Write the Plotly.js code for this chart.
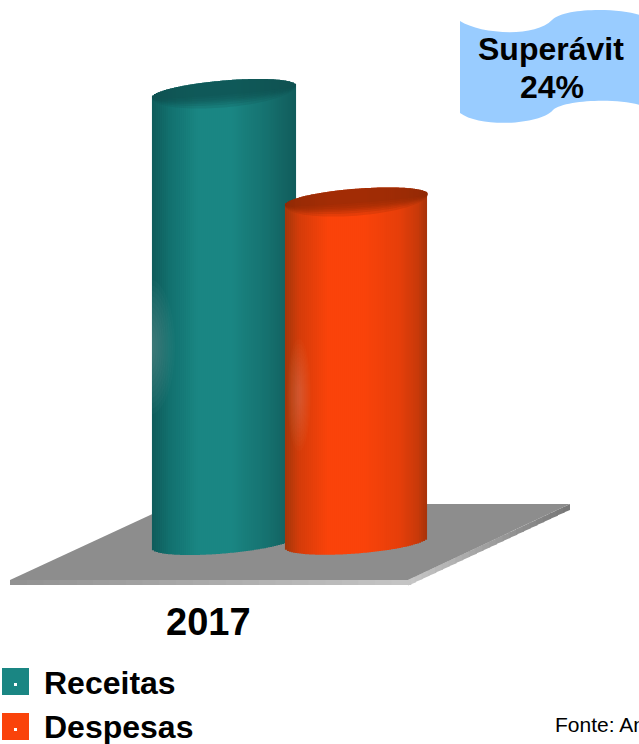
<!DOCTYPE html>
<html><head><meta charset="utf-8">
<script src="https://cdn.plot.ly/plotly-3.0.1.min.js"></script>
<style>html,body{margin:0;padding:0;background:#fff;overflow:hidden}#c{width:639px;height:744px}</style>
</head><body><div id="c"></div>
<script>
// Data
const seriesNames = ['Receitas', 'Despesas'];
const seriesValues = [100, 76];
const yearLabel = '2017';
const badgeLines = ['Superávit', '24%'];
const sourceLabel = 'Fonte: An';
// Style
const W = 639, H = 744, pxPerUnit = 4.51, baseRow = 542.5;
const centers = [224, 356.5], halfWidths = [72, 71.5], tilts = [6, 5.5], depth = 11;
const shadeStops = [
  [[0,'#0f5c5b'],[.12,'#12706e'],[.32,'#1a8683'],[.55,'#1a8683'],[.8,'#16716f'],[1,'#115c5b']],
  [[0,'#a3360a'],[.1,'#d43c0a'],[.3,'#fa430a'],[.55,'#fa430a'],[.8,'#e63f0a'],[.93,'#c8390a'],[1,'#a2330a']]
];
const capColors = ['#0e4f4e', '#8a2a05'];
const hex = c => [1,3,5].map(i => parseInt(c.slice(i,i+2),16));
const mix = (a,b,f) => { const A=hex(a),B=hex(b); return `rgb(${A.map((v,j)=>Math.round(v+(B[j]-v)*f)).join(',')})`; };
function shade(stops, t){
  for(let i=1;i<stops.length;i++){
    if(t<=stops[i][0]){
      const a=stops[i-1], b=stops[i];
      return mix(a[1],b[1],(t-a[0])/(b[0]-a[0]));
    }
  }
  return stops[stops.length-1][1];
}
const yRange = [(baseRow-H)/pxPerUnit, baseRow/pxPerUnit];
const traces = seriesValues.map((val,i)=>{
  const xs=[],heights=[],bases=[],cols=[],a=halfWidths[i];
  for(let dx=-a+1; dx<a; dx+=2){
    const u=dx/a, s=Math.sqrt(Math.max(0,1-u*u));
    const off=(tilts[i]*u)/pxPerUnit, front=depth*s/pxPerUnit;
    xs.push(centers[i]+dx);
    bases.push(off-front);
    heights.push(val+2*front);
    cols.push(shade(shadeStops[i],(u+1)/2));
  }
  return {type:'bar',x:xs,base:bases,y:heights,width:xs.map(()=>2.1),
    marker:{color:cols,line:{width:0}},hoverinfo:'skip',showlegend:false,name:seriesNames[i]};
});
// Caps: tilted ellipses, stacked translucent layers fade the front rim
const shapes=[];
function ellipsePath(i,val,sFront,sBack){
  const a=halfWidths[i],n=48; let d='';
  for(let k=0;k<=n;k++){
    const t=Math.PI*k/n,u=-Math.cos(t);
    const y=val+(tilts[i]*u+depth*sBack*Math.sin(t))/pxPerUnit;
    d+=(k?'L':'M')+(centers[i]+a*u)+','+y;
  }
  for(let k=n-1;k>0;k--){
    const t=Math.PI*k/n,u=-Math.cos(t);
    const y=val+(tilts[i]*u-depth*sFront*Math.sin(t))/pxPerUnit;
    d+='L'+(centers[i]+a*u)+','+y;
  }
  return d+'Z';
}
seriesValues.forEach((val,i)=>{
  [1.45,1.2,1,.85,.7,.5,.3].forEach(s=>{
    shapes.push({type:'path',path:ellipsePath(i,val,s,1),xref:'x',yref:'y',fillcolor:capColors[i],opacity:.2,line:{width:0},layer:'above'});
  });
});
// Pixel helper for decoration
const X=x=>x/W, Y=y=>1-y/H;
const poly=(pts,fill,layer)=>({type:'path',xref:'paper',yref:'paper',layer:layer||'below',fillcolor:fill,line:{width:0},
  path:'M'+pts.map(p=>X(p[0])+','+Y(p[1])).join('L')+'Z'});
// Floor with gradient rims
const rimN=24;
for(let k=0;k<rimN;k++){
  const f0=k/rimN,f1=(k+1.2)/rimN;
  shapes.push(poly([[10+398*f0,580],[10+398*f1,580],[10+398*f1,585],[10+398*f0,585]],mix('#929292','#c6c6c6',f0)));
  const rx0=408+162*f0,rx1=408+162*Math.min(1,f1),ry0=580-76*f0,ry1=580-76*Math.min(1,f1);
  shapes.push(poly([[rx0,ry0],[rx1,ry1],[rx1,ry1+6],[rx0,ry0+5.5]],mix('#c6c6c6','#747474',f0)));
}
shapes.push(poly([[10,580],[174,504],[570,504],[408,580]],'#8d8d8d'));
// soft highlights
function smudge(cx,cy,rx,ry,op){
  for(let f=1;f>.15;f-=.08){
    shapes.push({type:'circle',xref:'paper',yref:'paper',layer:'above',fillcolor:'#fff',opacity:op,line:{width:0},
      x0:X(cx-rx*f),x1:X(cx+rx*f),y0:Y(cy-ry*f),y1:Y(cy+ry*f)});
  }
}
smudge(149,347,26,68,.018);
smudge(299,395,12,56,.016);
// Legend swatches
[[2,668,'#1a8683'],[2,713,'#fa430a']].forEach(([x,y,c])=>{
  shapes.push(poly([[x,y],[x+27,y],[x+27,y+27],[x,y+27]],c));
  shapes.push(poly([[x+12,y+15],[x+15,y+15],[x+15,y+18],[x+12,y+18]],'#fff'));
});
// Badge
shapes.push({type:'path',xref:'paper',yref:'paper',layer:'below',fillcolor:'#99ccff',line:{width:0},
 path:`M${X(460)},${Y(21)} C${X(480)},${Y(34)} ${X(535)},${Y(38)} ${X(552)},${Y(20)} C${X(565)},${Y(7)} ${X(620)},${Y(8)} ${X(640)},${Y(15)} L${X(640)},${Y(105)} C${X(615)},${Y(98)} ${X(565)},${Y(100)} ${X(553)},${Y(110)} C${X(540)},${Y(125)} ${X(480)},${Y(128)} ${X(460)},${Y(113)} Z`});
const font={family:'"Liberation Sans",Arial,sans-serif',color:'#000'};
const ann=(x,y,text,size,bold,anchor)=>({xref:'paper',yref:'paper',x:X(x),y:Y(y),xanchor:anchor,yanchor:'middle',showarrow:false,
  text:bold?`<b>${text}</b>`:text,font:Object.assign({size},font),align:'center'});
const annotations=[
  ann(550.5,49,badgeLines[0],32,true,'center'),
  ann(551.5,87,badgeLines[1],32,true,'center'),
  ann(208,622,yearLabel,38,true,'center'),
  ann(42,683,seriesNames[0],32,true,'left'),
  ann(42,727,seriesNames[1],32,true,'left'),
  ann(552.5,724,sourceLabel,21,false,'left')
];
Plotly.newPlot('c',traces,{
  width:W,height:H,margin:{l:0,r:0,t:0,b:0},paper_bgcolor:'#fff',plot_bgcolor:'rgba(0,0,0,0)',
  barmode:'overlay',showlegend:false,
  xaxis:{range:[0,W],visible:false,fixedrange:true},
  yaxis:{range:yRange,visible:false,fixedrange:true},
  shapes,annotations
},{staticPlot:true,displayModeBar:false});
</script></body></html>
